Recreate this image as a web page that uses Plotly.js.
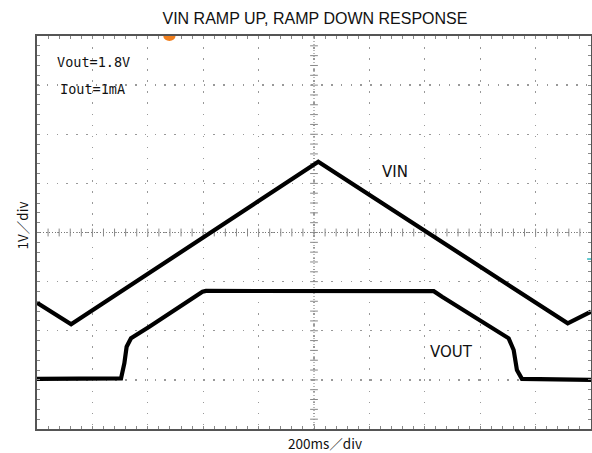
<!DOCTYPE html>
<html>
<head>
<meta charset="utf-8">
<script src="https://cdn.plot.ly/plotly-3.0.1.min.js"></script>
<style>html,body{margin:0;padding:0;background:#fff;}#chart{width:592px;height:453px;}</style>
</head>
<body>
<div id="chart"></div>
<script>
// time in divisions (200 ms/div), voltage in divisions (1 V/div), 0 = bottom of screen
const vinTime = [0, 0.616, 5.077, 9.58, 10];
const vinDiv  = [2.57, 2.13, 5.44, 2.15, 2.39];
const voutTime = [0, 1.517, 1.577, 1.618, 1.697, 2.027, 2.987, 3.05, 7.162, 7.312, 8.514, 8.604, 8.663, 8.753, 10];
const voutDiv  = [1.02, 1.03, 1.34, 1.675, 1.846, 2.082, 2.795, 2.81, 2.805, 2.693, 1.846, 1.608, 1.201, 1.02, 1.0];
const chartTitle = 'VIN RAMP UP, RAMP DOWN RESPONSE';
const xTitle = '200ms／div';
const yTitle = '1V／div';
const notes = ['Vout=1.8V', 'Iout=1mA'];
const traceLabels = ['VIN', 'VOUT'];

const traces = [
  {x: vinTime, y: vinDiv, mode: 'lines', name: 'VIN', line: {color: '#000', width: 4.2}, hoverinfo: 'skip'},
  {x: voutTime, y: voutDiv, mode: 'lines', name: 'VOUT', line: {color: '#000', width: 4.2}, hoverinfo: 'skip'}
];

const shapes = [];
// centre crosshair
shapes.push({type: 'line', xref: 'x', yref: 'y', x0: 0, x1: 10, y0: 4, y1: 4, line: {color: '#777', width: 1, dash: '1px,2px'}, layer: 'below'});
shapes.push({type: 'line', xref: 'x', yref: 'y', x0: 5, x1: 5, y0: 0, y1: 8, line: {color: '#777', width: 1, dash: '1px,2px'}, layer: 'below'});
for (let i = 1; i < 50; i++) {
  const t = i / 5;
  shapes.push({type: 'line', xref: 'x', yref: 'y', x0: t, x1: t, y0: 3.92, y1: 4.08, line: {color: '#888', width: 1}, layer: 'below'});
}
for (let i = 1; i < 40; i++) {
  const v = i / 5;
  shapes.push({type: 'line', xref: 'x', yref: 'y', x0: 4.93, x1: 5.07, y0: v, y1: v, line: {color: '#888', width: 1}, layer: 'below'});
}
// ground marker (orange) and cyan level marker
shapes.push({type: 'circle', xref: 'x', yref: 'y', x0: 2.28, x1: 2.5, y0: 7.9, y1: 8.1, fillcolor: '#f07f1e', line: {width: 0}});
shapes.push({type: 'line', xref: 'x', yref: 'y', x0: 9.93, x1: 10, y0: 3.46, y1: 3.46, line: {color: '#2cb8c0', width: 1.5}});

const noteFont = {family: 'DejaVu Sans Mono, monospace', size: 13.5, color: '#111'};
const labelFont = {family: 'DejaVu Sans, sans-serif', size: 15, color: '#111'};
const titleFont = {family: 'Noto Sans CJK JP, sans-serif', size: 13.5, color: '#111'};
const annotations = [
  {x: 0.33, y: 7.47, xref: 'x', yref: 'y', text: notes[0], showarrow: false, xanchor: 'left', yanchor: 'middle', font: noteFont},
  {x: 0.37, y: 6.92, xref: 'x', yref: 'y', text: notes[1], showarrow: false, xanchor: 'left', yanchor: 'middle', font: noteFont},
  {x: 6.47, y: 5.23, xref: 'x', yref: 'y', text: traceLabels[0], showarrow: false, xanchor: 'center', yanchor: 'middle', font: labelFont},
  {x: 7.48, y: 1.57, xref: 'x', yref: 'y', text: traceLabels[1], showarrow: false, xanchor: 'center', yanchor: 'middle', font: labelFont},
  {x: 0, y: 0.518, xref: 'paper', yref: 'paper', xshift: -15, text: yTitle, textangle: -90, showarrow: false, xanchor: 'center', yanchor: 'middle', font: titleFont},
  {x: 0.5, y: 0, xref: 'paper', yref: 'paper', xshift: 11, yshift: -2, text: xTitle, showarrow: false, xanchor: 'center', yanchor: 'top', font: titleFont}
];

const axisCommon = {
  showticklabels: false, showline: true, linecolor: '#555', linewidth: 2, mirror: 'allticks',
  ticks: 'inside', ticklen: 3, tickcolor: '#888', tickwidth: 1,
  showgrid: true, gridcolor: '#999', gridwidth: 1.3, zeroline: false, fixedrange: true
};

const layout = {
  width: 592, height: 453,
  margin: {l: 37, r: 1, t: 36, b: 24},
  paper_bgcolor: '#fff', plot_bgcolor: '#fff',
  showlegend: false,
  title: {text: chartTitle, font: {family: 'Liberation Sans, Arial, sans-serif', size: 16, color: '#111'}, x: 0.532, xanchor: 'center', y: 0.96, yanchor: 'middle'},
  xaxis: Object.assign({}, axisCommon, {range: [0, 10], dtick: 1, tick0: 0, griddash: '1.5px,9.58px',
    minor: {dtick: 0.2, ticks: 'inside', ticklen: 3, tickcolor: '#888', showgrid: false}}),
  yaxis: Object.assign({}, axisCommon, {range: [0, 8], dtick: 1, tick0: 0, griddash: '1.5px,8.3px',
    minor: {dtick: 0.2, ticks: 'inside', ticklen: 3, tickcolor: '#888', showgrid: false}}),
  shapes: shapes,
  annotations: annotations
};

Plotly.newPlot('chart', traces, layout, {staticPlot: true, displayModeBar: false});
</script>
</body>
</html>
